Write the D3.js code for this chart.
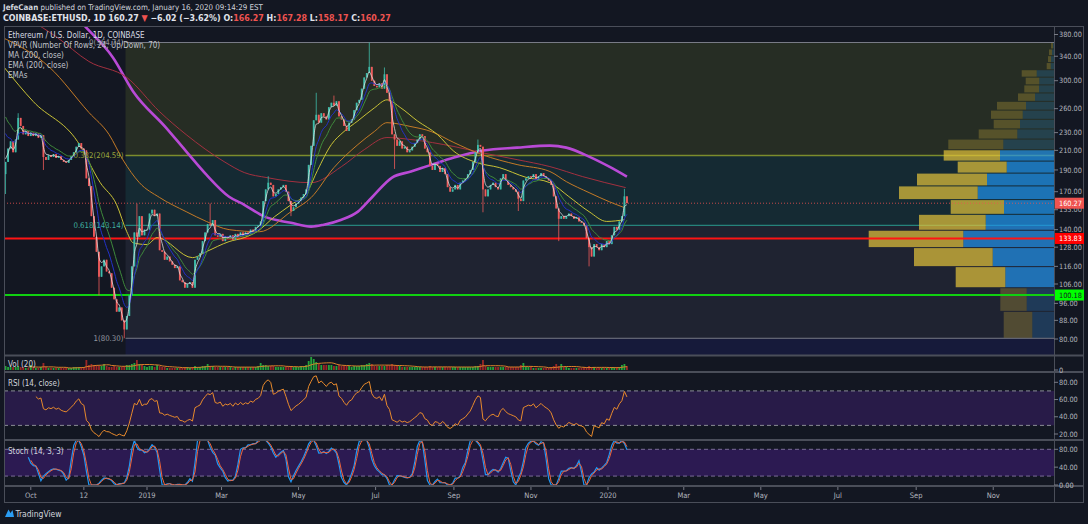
<!DOCTYPE html>
<html>
<head>
<meta charset="utf-8">
<script src="https://cdnjs.cloudflare.com/ajax/libs/d3/7.8.5/d3.min.js"></script>
<style>
body { margin: 0; background: #131722; overflow: hidden; }
text { font-family: "Liberation Sans Narrow", "DejaVu Sans Condensed", "Roboto", sans-serif; }
</style>
</head>
<body>
<script>
const firstDay = "2018-09-11";
const firstOpen = 186;
const closes = [
  198, 212, 220, 208, 222, 248, 238, 228, 232, 226,
  230, 226, 229, 224, 227, 203, 200, 205, 203, 206,
  202, 204, 200, 198, 197, 200, 204, 208, 214, 218,
  212, 210, 182, 175, 150, 135, 125, 110, 116, 120,
  113, 112, 104, 98, 92, 94, 88, 84, 90, 100,
  116, 138, 135, 150, 136, 140, 140, 152, 155, 150,
  152, 126, 125, 120, 122, 119, 117, 115, 116, 108,
  107, 104, 106, 107, 104, 120, 122, 124, 132, 138,
  144, 143, 147, 136, 135, 137, 132, 135, 134, 136,
  133, 137, 135, 138, 136, 138, 137, 140, 139, 142,
  143, 146, 162, 172, 178, 176, 166, 168, 172, 174,
  176, 170, 162, 154, 157, 160, 162, 165, 168, 172,
  195, 215, 245, 252, 242, 254, 250, 246, 262, 268,
  264, 270, 250, 246, 238, 232, 242, 246, 258, 268,
  272, 288, 305, 312, 322, 300, 292, 290, 296, 288,
  310, 282, 270, 228, 222, 215, 220, 212, 214, 208,
  210, 214, 218, 222, 228, 226, 212, 208, 194, 190,
  196, 194, 188, 192, 186, 174, 170, 172, 176, 172,
  178, 180, 182, 186, 190, 198, 208, 216, 214, 172,
  166, 172, 176, 178, 174, 172, 182, 186, 180, 176,
  174, 172, 170, 164, 162, 180, 182, 184, 183, 186,
  181, 184, 187, 184, 182, 180, 176, 166, 156, 148,
  150, 148, 150, 152, 150, 148, 149, 146, 145, 143,
  134, 128, 122, 130, 128, 126, 130, 128, 132, 130,
  136, 142, 140, 146, 150, 166, 160.27
];
const wickHigh = { 5: 254, 52: 160, 81: 160, 104: 184, 123: 282, 130: 278, 144: 364.74, 150: 321, 187: 222, 245: 172.5 };
const wickLow = { 0: 168, 15: 190, 37: 100, 47: 80.30, 113: 150, 154: 191, 189: 153, 203: 154, 219: 132, 231: 116 };
const volumes = [
  4, 3, 3, 3, 3, 4, 3, 3, 2, 2,
  5, 3, 2, 2, 3, 7, 3, 2, 2, 2,
  2, 2, 2, 2, 2, 2, 2, 3, 3, 3,
  3, 3, 10, 5, 6, 5, 5, 4, 4, 6,
  4, 3, 3, 4, 3, 3, 3, 4, 5, 5,
  6, 7, 10, 6, 5, 4, 3, 4, 4, 3,
  5, 4, 3, 3, 2, 2, 2, 2, 2, 2,
  2, 3, 3, 2, 3, 4, 3, 3, 4, 4,
  6, 4, 4, 3, 3, 3, 3, 3, 3, 3,
  2, 3, 3, 3, 3, 3, 3, 3, 3, 3,
  4, 7, 5, 5, 4, 4, 4, 3, 3, 3,
  3, 3, 4, 4, 3, 3, 3, 4, 4, 5,
  9, 13, 11, 8, 6, 5, 5, 5, 5, 5,
  4, 4, 5, 4, 4, 4, 4, 3, 4, 4,
  4, 5, 5, 6, 7, 6, 4, 4, 4, 4,
  4, 5, 5, 6, 5, 4, 4, 3, 3, 3,
  3, 3, 3, 3, 3, 3, 3, 3, 4, 3,
  3, 3, 3, 3, 3, 3, 3, 3, 3, 3,
  3, 3, 3, 3, 3, 3, 4, 4, 6, 10,
  4, 3, 3, 3, 3, 3, 3, 3, 3, 3,
  3, 3, 3, 3, 5, 7, 3, 3, 3, 2,
  2, 2, 2, 2, 2, 2, 3, 4, 6, 4,
  6, 3, 3, 2, 2, 2, 2, 2, 2, 3,
  3, 4, 3, 3, 2, 2, 2, 2, 2, 2,
  3, 3, 3, 3, 5, 6, 4
];

// long averages
const sma200 = [
  ["2018-10-24", 455], ["2018-11-13", 396], ["2018-12-05", 338], ["2018-12-21", 284],
  ["2019-01-16", 236], ["2019-02-01", 209], ["2019-02-17", 185.5], ["2019-03-07", 165.7],
  ["2019-03-19", 159], ["2019-04-04", 149.6], ["2019-04-25", 145], ["2019-05-11", 142.2],
  ["2019-05-21", 143.6], ["2019-06-04", 147.3], ["2019-06-17", 153.5], ["2019-06-28", 165],
  ["2019-07-14", 182.7], ["2019-07-29", 188.5], ["2019-08-14", 195], ["2019-09-01", 202.4],
  ["2019-09-24", 209.8], ["2019-10-21", 213], ["2019-11-16", 215.2], ["2019-11-29", 213],
  ["2019-12-17", 203.4], ["2020-01-02", 193.2], ["2020-01-16", 183.6]
];
const ema200 = [
  ["2018-09-30", 410], ["2018-10-21", 376], ["2018-11-16", 331], ["2018-12-16", 305],
  ["2019-01-11", 256], ["2019-02-01", 227.7], ["2019-03-03", 198.3], ["2019-03-19", 187.5],
  ["2019-04-06", 182.7], ["2019-05-11", 178], ["2019-06-04", 193.3], ["2019-06-22", 210.8],
  ["2019-07-10", 224.3], ["2019-07-29", 222], ["2019-09-01", 214.2], ["2019-09-23", 207.6],
  ["2019-10-21", 200.3], ["2019-11-16", 193.3], ["2019-12-12", 183.6], ["2020-01-15", 173.6]
];
const ema100 = [
  ["2018-09-07", 376], ["2018-10-16", 321], ["2018-11-16", 255], ["2018-12-02", 227.7],
  ["2018-12-13", 200], ["2018-12-26", 178], ["2019-01-11", 165], ["2019-02-01", 153.5],
  ["2019-02-17", 146], ["2019-03-07", 140], ["2019-03-31", 138.5], ["2019-04-25", 153.5],
  ["2019-05-11", 165], ["2019-05-29", 192.3], ["2019-06-17", 216.4], ["2019-06-30", 231.3],
  ["2019-07-10", 242], ["2019-07-29", 237.2], ["2019-08-14", 231.3], ["2019-09-01", 218.6],
  ["2019-09-23", 205.6], ["2019-10-21", 195.3], ["2019-11-16", 188.5], ["2019-11-29", 179],
  ["2019-12-17", 169.2], ["2020-01-02", 161.5], ["2020-01-14", 156.7]
];
const ema50 = [
  ["2018-09-10", 321], ["2018-10-03", 269.5], ["2018-11-07", 219.7], ["2018-11-25", 178],
  ["2018-12-08", 159], ["2018-12-16", 138.5], ["2018-12-21", 130.9], ["2019-01-01", 129.7],
  ["2019-01-09", 134.4], ["2019-02-06", 121.3], ["2019-02-17", 125.1], ["2019-03-07", 131.7],
  ["2019-03-19", 134.4], ["2019-03-29", 138.5], ["2019-04-12", 149.6], ["2019-04-25", 159],
  ["2019-05-08", 170], ["2019-05-16", 189.6], ["2019-05-27", 216.4], ["2019-06-06", 231.3],
  ["2019-06-17", 244.3], ["2019-06-30", 261], ["2019-07-10", 272], ["2019-07-21", 261],
  ["2019-08-03", 244.3], ["2019-08-19", 227.7], ["2019-09-01", 209], ["2019-09-19", 197.3],
  ["2019-10-07", 192.3], ["2019-10-28", 183], ["2019-11-16", 178], ["2019-12-01", 165.8],
  ["2019-12-17", 153.5], ["2019-12-31", 146], ["2020-01-14", 147.3]
];
// short EMAs are computed, starting from the values seen at the left edge
const shortEmaPeriods = [5, 13, 21];
const shortEmaSeeds = [205, 240, 260];

// fib retracement (log scale) from the Dec 2018 low to the Jun 2019 high
const fibStart = "2018-12-15";
const fibLevels = [0, 0.382, 0.618, 1];
const fibPrices = [364.74, 204.59, 143.14, 80.30];
const fibExtPrice = 31.1; // 1.618 level, below the visible range

// horizontal levels and last price
const supportLevels = [133.83, 100.18];
const lastPrice = 160.27;

// volume profile, 24 rows from the low to the high (k ETH)
const vpDown = [286, 264, 496, 787, 946, 667, 533, 787, 700, 490, 563, 550, 386, 263, 317, 290, 170, 147, 136, 150, 40, 30, 30, 20];
const vpUp = [217, 273, 487, 613, 907, 683, 500, 763, 670, 473, 540, 507, 367, 340, 313, 280, 190, 150, 147, 173, 33, 30, 20, 10];
const vpValueArea = [2, 10];

const priceTicks = [380, 340, 300, 260, 230, 210, 190, 170, 155, 140, 128, 116, 106, 96, 88, 80];
const rsiTicks = [80, 60, 40, 20];
const stochTicks = [80, 40, 0];
const timeTicks = ["2018-10-01", "2018-11-12", "2019-01-01", "2019-03-01", "2019-05-01", "2019-07-01", "2019-09-01",
  "2019-11-01", "2020-01-01", "2020-03-01", "2020-05-01", "2020-07-01", "2020-09-01", "2020-11-01"];
const timeTickLabels = ["Oct", "12", "2019", "Mar", "May", "Jul", "Sep", "Nov", "2020", "Mar", "May", "Jul", "Sep", "Nov"];

// ---------------------------------------------------------------
const W = 1088, H = 524;
const left = 4, right = 1084, axisX = 1054;
const main = { top: 27, bottom: 355 },
    vol = { top: 356, bottom: 371 },
    rsiP = { top: 373, bottom: 439 },
    stoP = { top: 441, bottom: 485 };

const parse = d3.utcParse('%Y-%m-%d');
const DAY = 864e5;

const svg = d3.select('body').append('svg')
    .attr('width', W)
    .attr('height', H)
    .style('display', 'block');

svg.append('rect').attr('width', W).attr('height', H).attr('fill', '#131722');

// scales
const x = d3.scaleUtc()
    .domain([parse('2019-01-01'), parse('2020-01-01')])
    .range([147, 608]);
const y = d3.scaleLog().domain([80, 380]).range([339, 34.5]);
const yRsi = d3.scaleLinear().domain([20, 80]).range([434, 382.3]);
const yStoch = d3.scaleLinear().domain([0, 80]).range([485, 449.3]);
const yVol = d3.scaleLinear().domain([0, d3.max(volumes)]).range([370, 357]);

const t0 = parse(firstDay);
const candles = closes.map((c, i) => {
    const o = i ? closes[i - 1] : firstOpen;
    return {
        date: new Date(t0.getTime() + i * 2 * DAY),
        o: o, c: c,
        hi: Math.max(o, c, wickHigh[i] || 0),
        lo: Math.min(o, c, wickLow[i] || Infinity),
        v: volumes[i]
    };
});
const bw = (x(new Date(t0.getTime() + 2 * DAY)) - x(t0)) * 0.72;

// clip paths
const defs = svg.append('defs');
function clip(id, y0, y1) {
    defs.append('clipPath').attr('id', id).append('rect')
        .attr('x', left).attr('y', y0).attr('width', axisX - left).attr('height', y1 - y0);
}
clip('cMain', main.top, main.bottom);
clip('cVol', vol.top, vol.bottom);
clip('cRsi', rsiP.top, rsiP.bottom);
clip('cSto', stoP.top, stoP.bottom);

// ---------------- main pane ----------------
const gMain = svg.append('g').attr('clip-path', 'url(#cMain)');

// fib bands
const fibX0 = x(parse(fibStart));
const bandEdges = fibPrices.concat([fibExtPrice]);
const bandColors = ['#262d24', '#152a33', '#1f2331', '#161a3a'];
gMain.selectAll('rect.band').data(d3.pairs(bandEdges)).enter().append('rect')
    .attr('x', fibX0)
    .attr('width', axisX - fibX0)
    .attr('y', d => y(d[0]))
    .attr('height', d => y(d[1]) - y(d[0]))
    .attr('fill', (d, i) => bandColors[i]);

const fibLineColors = ['#787b86', '#7c8c2c', '#2a9d8f', '#787b86'];
const fibTextColors = ['#9598a1', '#9aa63c', '#3fae9f', '#9598a1'];
gMain.selectAll('line.fib').data(fibPrices).enter().append('line')
    .attr('x1', fibX0).attr('x2', axisX)
    .attr('y1', d => y(d)).attr('y2', d => y(d))
    .attr('stroke', (d, i) => fibLineColors[i])
    .attr('stroke-width', (d, i) => i === 1 ? 1.5 : 1);

// volume profile
const vpLow = fibPrices[3], vpHigh = fibPrices[0];
const vpStep = (vpHigh - vpLow) / vpDown.length;
const vpTotals = vpDown.map((d, i) => d + vpUp[i]);
const vpX = d3.scaleLinear().domain([0, d3.max(vpTotals)]).range([0, 185.3]);
const vpRows = vpDown.map((d, i) => ({
    i: i, down: d, up: vpUp[i],
    y0: y(vpLow + (i + 1) * vpStep),
    y1: y(vpLow + i * vpStep),
    inVA: i >= vpValueArea[0] && i <= vpValueArea[1]
}));
const gVp = gMain.append('g');
gVp.selectAll('rect.up').data(vpRows).enter().append('rect')
    .attr('x', d => axisX - vpX(d.up))
    .attr('width', d => vpX(d.up))
    .attr('y', d => d.y0 + 0.5)
    .attr('height', d => Math.max(1, d.y1 - d.y0 - 1))
    .attr('fill', '#2196f3')
    .attr('fill-opacity', d => d.inVA ? 0.68 : 0.2);
gVp.selectAll('rect.down').data(vpRows).enter().append('rect')
    .attr('x', d => axisX - vpX(d.up) - vpX(d.down))
    .attr('width', d => vpX(d.down))
    .attr('y', d => d.y0 + 0.5)
    .attr('height', d => Math.max(1, d.y1 - d.y0 - 1))
    .attr('fill', '#e6c53a')
    .attr('fill-opacity', d => d.inVA ? 0.7 : 0.25);

// horizontal levels
gMain.selectAll('line.lvl').data(supportLevels).enter().append('line')
    .attr('x1', left).attr('x2', axisX)
    .attr('y1', d => y(d)).attr('y2', d => y(d))
    .attr('stroke', (d, i) => i === 0 ? '#ff1414' : '#10d010')
    .attr('stroke-width', 2);
gMain.append('line')
    .attr('x1', left).attr('x2', axisX)
    .attr('y1', y(lastPrice)).attr('y2', y(lastPrice))
    .attr('stroke', '#ef5350').attr('stroke-opacity', 0.8)
    .attr('stroke-dasharray', '1,2');

// long moving averages
const traced = [
    { pts: sma200, color: '#b94ad6', w: 2.6 },
    { pts: ema200, color: '#a3303f', w: 1 },
    { pts: ema100, color: '#c47a26', w: 1 },
    { pts: ema50, color: '#c9c236', w: 1 }
];
const tracedLine = d3.line()
    .x(d => x(parse(d[0])))
    .y(d => y(d[1]))
    .curve(d3.curveMonotoneX);
gMain.selectAll('path.ma').data(traced).enter().append('path')
    .attr('d', d => tracedLine(d.pts))
    .attr('fill', 'none')
    .attr('stroke', d => d.color)
    .attr('stroke-width', d => d.w);

// candles
const upCol = '#3fbcaa', downCol = '#ef5b5b';
const gC = gMain.append('g');
gC.selectAll('line').data(candles).enter().append('line')
    .attr('x1', d => x(d.date)).attr('x2', d => x(d.date))
    .attr('y1', d => y(d.hi)).attr('y2', d => y(d.lo))
    .attr('stroke', d => d.c >= d.o ? upCol : downCol)
    .attr('stroke-width', 0.8);
gC.selectAll('rect').data(candles).enter().append('rect')
    .attr('x', d => x(d.date) - bw / 2)
    .attr('width', bw)
    .attr('y', d => y(Math.max(d.o, d.c)))
    .attr('height', d => Math.max(0.8, Math.abs(y(d.o) - y(d.c))))
    .attr('fill', d => d.c >= d.o ? upCol : downCol);

// short EMAs
function ema(vals, n, seed) {
    const a = 1 - Math.pow(1 - 2 / (n + 1), 2);
    let e = seed;
    return vals.map(v => (e = e + a * (v - e)));
}
const shortColors = ['#e3e3e3', '#2331c8', '#3f8a3c'];
const shortLine = d3.line().x((d, i) => x(candles[i].date)).y(d => y(d)).curve(d3.curveMonotoneX);
[2, 1, 0].forEach(k => {
    gMain.append('path')
        .attr('d', shortLine(ema(closes, shortEmaPeriods[k], shortEmaSeeds[k])))
        .attr('fill', 'none')
        .attr('stroke', shortColors[k])
        .attr('stroke-width', k === 0 ? 0.9 : 1)
        .attr('stroke-opacity', k === 0 ? 0.85 : 1);
});

// fib labels
gMain.selectAll('text.fib').data(fibLevels).enter().append('text')
    .attr('x', fibX0 - 2)
    .attr('y', (d, i) => y(fibPrices[i]))
    .attr('dy', '0.35em')
    .attr('text-anchor', 'end')
    .attr('font-size', 7.8)
    .attr('fill', (d, i) => fibTextColors[i])
    .text((d, i) => d + '(' + fibPrices[i].toFixed(2) + ')');

// legend
const legend = ['Ethereum / U.S. Dollar, 1D, COINBASE', 'VPVR (Number Of Rows, 24, Up/Down, 70)',
    'MA (200, close)', 'EMA (200, close)', 'EMAs'];
svg.selectAll('text.leg').data(legend).enter().append('text')
    .attr('x', 8).attr('y', (d, i) => 38 + i * 10)
    .attr('font-size', 8)
    .attr('fill', (d, i) => i ? '#c0c3cb' : '#d8dbe2')
    .text(d => d);

// ---------------- volume pane ----------------
const gVol = svg.append('g').attr('clip-path', 'url(#cVol)');
gVol.selectAll('rect').data(candles).enter().append('rect')
    .attr('x', d => x(d.date) - bw / 2)
    .attr('width', bw)
    .attr('y', d => yVol(d.v))
    .attr('height', d => yVol(0) - yVol(d.v))
    .attr('fill', d => d.c >= d.o ? '#24a33c' : '#9c2626');
const volMa = candles.map((d, i) => i < 9 ? null : d3.mean(candles.slice(i - 9, i + 1), e => e.v));
gVol.append('path')
    .attr('d', d3.line().defined(d => d !== null).x((d, i) => x(candles[i].date)).y(d => yVol(d))(volMa))
    .attr('fill', 'none').attr('stroke', '#d9822b').attr('stroke-width', 1);

// ---------------- RSI pane ----------------
function rsi(vals, n) {
    const out = [];
    let ag = 0, al = 0;
    for (let i = 1; i < vals.length; i++) {
        const d = vals[i] - vals[i - 1];
        const g = Math.max(d, 0), l = Math.max(-d, 0);
        if (i <= n) {
            ag += g / n; al += l / n;
            if (i === n) out.push([i, 100 - 100 / (1 + ag / al)]);
        } else {
            ag = (ag * (n - 1) + g) / n;
            al = (al * (n - 1) + l) / n;
            out.push([i, 100 - 100 / (1 + ag / al)]);
        }
    }
    return out;
}
const gRsi = svg.append('g').attr('clip-path', 'url(#cRsi)');
gRsi.append('rect').attr('x', left).attr('width', axisX - left)
    .attr('y', yRsi(70)).attr('height', yRsi(30) - yRsi(70)).attr('fill', '#281b48');
[70, 30].forEach(v => gRsi.append('line')
    .attr('x1', left).attr('x2', axisX).attr('y1', yRsi(v)).attr('y2', yRsi(v))
    .attr('stroke', '#8a8d96').attr('stroke-dasharray', '4,3'));
gRsi.append('path')
    .attr('d', d3.line().x(d => x(candles[d[0]].date)).y(d => yRsi(d[1]))(rsi(closes, 12)))
    .attr('fill', 'none').attr('stroke', '#e88a2c').attr('stroke-width', 1);

// ---------------- Stoch pane ----------------
const stN = 9;
const raw = candles.map((d, i) => {
    if (i < stN - 1) return null;
    const w = candles.slice(i - stN + 1, i + 1);
    const hh = d3.max(w, e => e.hi), ll = d3.min(w, e => e.lo);
    return (d.c - ll) / (hh - ll) * 100;
});
const sma2 = arr => arr.map((v, i) => (i && v !== null && arr[i - 1] !== null) ? (v + arr[i - 1]) / 2 : null);
const stK = sma2(raw), stD = sma2(stK);
const gSto = svg.append('g').attr('clip-path', 'url(#cSto)');
gSto.append('rect').attr('x', left).attr('width', axisX - left)
    .attr('y', yStoch(80)).attr('height', yStoch(20) - yStoch(80)).attr('fill', '#2c1a52');
[80, 20].forEach(v => gSto.append('line')
    .attr('x1', left).attr('x2', axisX).attr('y1', yStoch(v)).attr('y2', yStoch(v))
    .attr('stroke', '#7a6d96').attr('stroke-dasharray', '4,3'));
const stLine = d3.line().defined(d => d !== null).x((d, i) => x(candles[i].date)).y(d => yStoch(d));
gSto.append('path').attr('d', stLine(stK)).attr('fill', 'none').attr('stroke', '#2196f3').attr('stroke-width', 1.2);
gSto.append('path').attr('d', stLine(stD)).attr('fill', 'none').attr('stroke', '#f0633a').attr('stroke-width', 1);

// pane titles
[['Vol (20)', 367], ['RSI (14, close)', 386], ['Stoch (14, 3, 3)', 453.5]].forEach(p =>
    svg.append('text').attr('x', 8).attr('y', p[1]).attr('font-size', 8)
        .attr('fill', '#d1d4dc').text(p[0]));

// ---------------- frame ----------------
const frameCol = '#4a4e59';
svg.append('rect').attr('x', left + 0.5).attr('y', 26.5).attr('width', right - left - 1).attr('height', 476)
    .attr('fill', 'none').attr('stroke', frameCol);
[main.bottom + 0.5, vol.bottom + 1, rsiP.bottom + 1, stoP.bottom + 1].forEach(v =>
    svg.append('line').attr('x1', left).attr('x2', right).attr('y1', v).attr('y2', v)
        .attr('stroke', frameCol).attr('stroke-width', 2));
svg.append('line').attr('x1', axisX + 0.5).attr('x2', axisX + 0.5).attr('y1', 26).attr('y2', 503)
    .attr('stroke', frameCol);

// ---------------- price axis ----------------
const axisText = (g, vals, sc, fmt) => {
    g.selectAll('line').data(vals).enter().append('line')
        .attr('x1', axisX).attr('x2', axisX + 4)
        .attr('y1', d => sc(d)).attr('y2', d => sc(d))
        .attr('stroke', '#787b86');
    g.selectAll('text').data(vals).enter().append('text')
        .attr('x', axisX + 5).attr('y', d => sc(d)).attr('dy', '0.35em')
        .attr('font-size', 7.3).attr('fill', '#b2b5be')
        .text(fmt);
};
axisText(svg.append('g'), priceTicks, y, d => d.toFixed(2));
axisText(svg.append('g'), [0], () => yVol(0), d => '0');
axisText(svg.append('g'), rsiTicks, yRsi, d => d.toFixed(2));
axisText(svg.append('g'), stochTicks, yStoch, d => d.toFixed(2));

const tags = [
    { v: lastPrice, bg: '#ef5350', fg: '#ffffff' },
    { v: supportLevels[0], bg: '#ff0000', fg: '#ffffff' },
    { v: supportLevels[1], bg: '#00ff00', fg: '#131722' }
];
const gTags = svg.append('g');
gTags.selectAll('rect').data(tags).enter().append('rect')
    .attr('x', axisX + 1).attr('width', 29).attr('y', d => y(d.v) - 5.5).attr('height', 11)
    .attr('fill', d => d.bg);
gTags.selectAll('text').data(tags).enter().append('text')
    .attr('x', axisX + 5).attr('y', d => y(d.v)).attr('dy', '0.35em')
    .attr('font-size', 7.3).attr('fill', d => d.fg)
    .text(d => d.v.toFixed(2));

// ---------------- time axis ----------------
const gT = svg.append('g');
gT.selectAll('line').data(timeTicks).enter().append('line')
    .attr('x1', d => x(parse(d))).attr('x2', d => x(parse(d)))
    .attr('y1', 487).attr('y2', 490).attr('stroke', '#787b86');
gT.selectAll('text').data(timeTicks).enter().append('text')
    .attr('x', d => x(parse(d))).attr('y', 497.5)
    .attr('text-anchor', 'middle').attr('font-size', 7.5).attr('fill', '#b2b5be')
    .text((d, i) => timeTickLabels[i]);

// ---------------- header ----------------
const h1 = svg.append('text').attr('x', 3).attr('y', 10).attr('font-size', 7.9).attr('fill', '#d1d4dc');
h1.append('tspan').attr('font-weight', 'bold').text('JefeCaan');
h1.append('tspan').text(' published on TradingView.com, January 16, 2020 09:14:29 EST');

const red = '#ef5350';
const h2parts = [
    ['COINBASE:ETHUSD, 1D  ', '#e0e3eb'], ['160.27 ', '#e0e3eb'], ['\u25BC', red], [' \u22126.02 (\u22123.62%) ', '#e0e3eb'],
    ['O:', '#e0e3eb'], ['166.27 ', red], ['H:', '#e0e3eb'], ['167.28 ', red],
    ['L:', '#e0e3eb'], ['158.17 ', red], ['C:', '#e0e3eb'], ['160.27', red]
];
const h2 = svg.append('text').attr('x', 3).attr('y', 20.5).attr('font-size', 8.8).attr('font-weight', 'bold');
h2parts.forEach(p => h2.append('tspan').attr('fill', p[1]).text(p[0]));

// logo
svg.append('path')
    .attr('d', 'M5,517 L8.5,509.5 L10.5,513 L12.5,510 L14,517 Z')
    .attr('fill', '#2a9df4');
svg.append('text').attr('x', 15.5).attr('y', 516.5).attr('font-size', 8.5).attr('fill', '#d1d4dc')
    .text('TradingView');
</script>
</body>
</html>
